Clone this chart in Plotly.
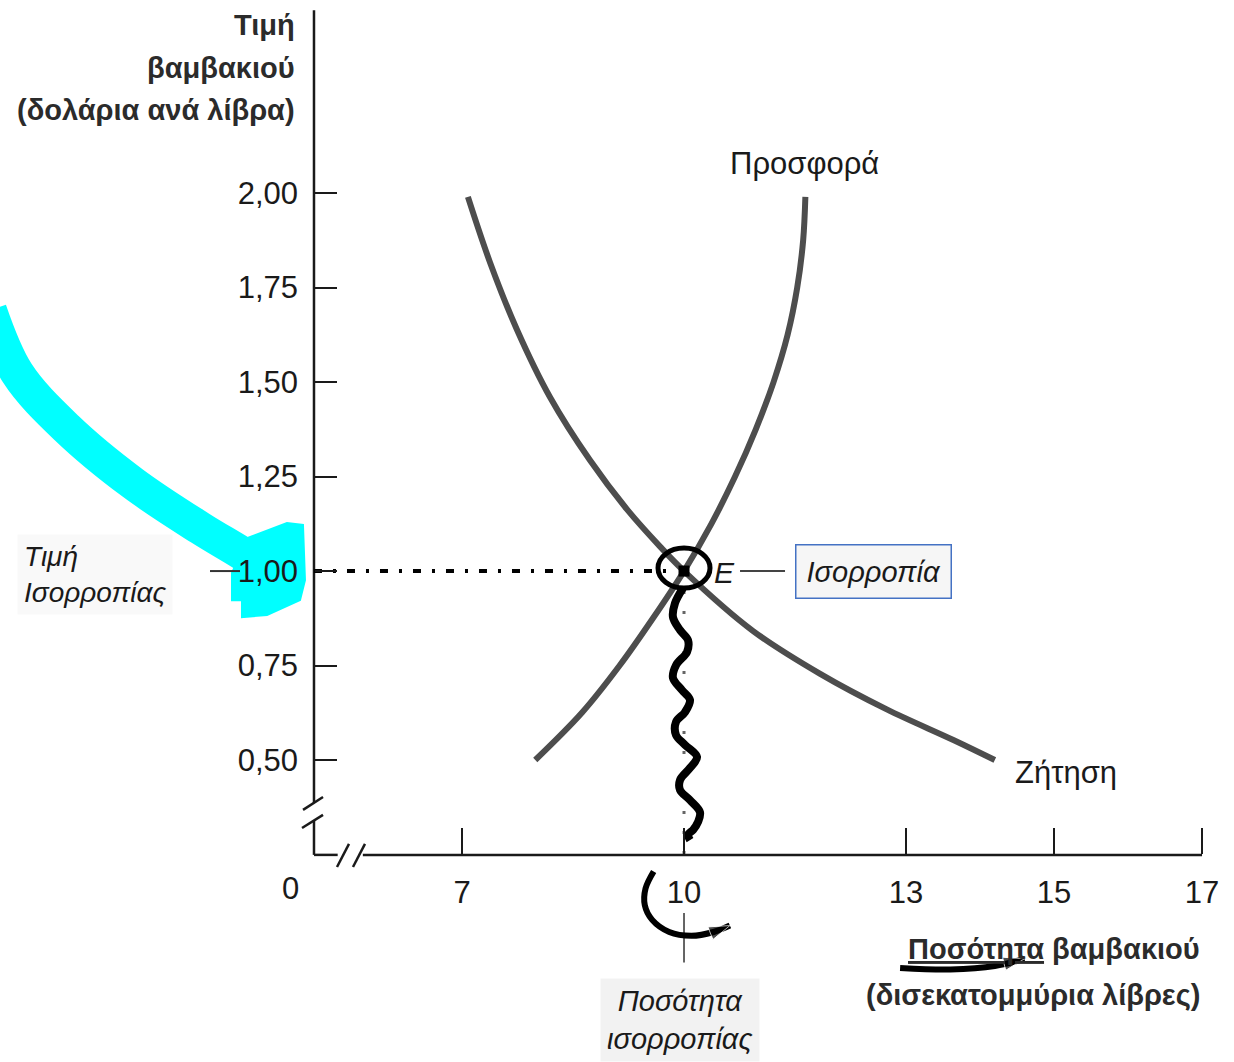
import plotly.graph_objects as go

# ---------------- data ----------------
x_ticks = [7, 10, 13, 15, 17]
y_ticks = [0.50, 0.75, 1.00, 1.25, 1.50, 1.75, 2.00]

demand_q = [7.08, 7.38, 7.74, 8.19, 8.73, 9.23, 9.68, 10.0, 10.93, 11.84, 12.74, 13.64, 14.2]
demand_p = [1.99, 1.816, 1.64, 1.46, 1.293, 1.163, 1.064, 1.00, 0.842, 0.728, 0.634, 0.553, 0.50]

supply_q = [7.99, 8.62, 9.13, 9.58, 10.0, 10.37, 10.69, 10.97, 11.21, 11.40, 11.53, 11.61, 11.64]
supply_p = [0.50, 0.625, 0.75, 0.875, 1.00, 1.125, 1.25, 1.375, 1.50, 1.625, 1.75, 1.875, 1.99]

eq_q = 10.0
eq_p = 1.00

# axis geometry (broken axes)
x_range = [0.757, 17.432]
y_range = [-0.299, 2.511]
origin_q = 5.0
origin_p = 0.25
x_end = 17.0

y_axis_q = [5.0, 5.0, None, 5.0, 5.0]
y_axis_p = [2.484, 0.386, None, 0.341, 0.249]
y_break_q = [4.852, 5.122, None, 4.838, 5.122]
y_break_p = [0.368, 0.402, None, 0.320, 0.355]
x_axis_q = [5.0, 5.32, None, 5.66, 17.0]
x_axis_p = [0.249, 0.249, None, 0.249, 0.249]
x_break_q = [5.311, 5.473, None, 5.527, 5.689]
x_break_p = [0.217, 0.278, None, 0.217, 0.278]

# hand-drawn annotations
highlight_q = [0.62, 0.99, 1.66, 2.55, 3.46, 4.0, 4.27]
highlight_p = [1.69, 1.524, 1.378, 1.233, 1.114, 1.05, 1.016]
blob_q = [4.095, 4.635, 4.851, 4.878, 4.811, 4.365, 4.027, 4.027, 3.892, 3.892, 4.0, 4.095]
blob_p = [1.087, 1.127, 1.122, 0.976, 0.923, 0.884, 0.878, 0.923, 0.923, 0.995, 1.042, 1.087]

squiggle_q = [9.986, 9.878, 9.851, 9.946, 10.054, 10.041, 9.892, 9.851, 9.973, 10.081, 10.014, 9.892,
              9.892, 10.014, 10.176, 10.081, 9.946, 9.946, 10.081, 10.216, 10.189, 10.122, 10.054, 10.081]
squiggle_p = [0.955, 0.915, 0.878, 0.844, 0.817, 0.786, 0.751, 0.717, 0.685, 0.659, 0.627, 0.601,
              0.566, 0.540, 0.508, 0.479, 0.447, 0.421, 0.394, 0.362, 0.336, 0.315, 0.302, 0.288]

curl_q = [9.59, 9.48, 9.47, 9.57, 9.80, 10.10, 10.40, 10.62]
curl_p = [0.205, 0.160, 0.116, 0.077, 0.045, 0.035, 0.045, 0.062]

underline_q = [12.92, 13.6, 14.2, 14.6]
underline_p = [-0.050, -0.054, -0.045, -0.026]

price_leader_q = [3.595, 4.0]
e_leader_q = [10.757, 11.365]
q_leader_p = [0.095, -0.036]

FONT = "Liberation Sans, Arial, DejaVu Sans, sans-serif"
INK = "#1a1a1a"
CURVE = "#4d4d4d"

fig = go.Figure()

# cyan highlighter
fig.add_trace(go.Scatter(x=highlight_q, y=highlight_p, mode="lines",
                         line=dict(color="#00FFFF", width=34, shape="spline"), hoverinfo="skip"))
fig.add_trace(go.Scatter(x=blob_q, y=blob_p, mode="lines", fill="toself", fillcolor="#00FFFF",
                         line=dict(color="#00FFFF", width=2), hoverinfo="skip"))

# axis lines with breaks
for q, p in [(y_axis_q, y_axis_p), (y_break_q, y_break_p), (x_axis_q, x_axis_p), (x_break_q, x_break_p)]:
    fig.add_trace(go.Scatter(x=q, y=p, mode="lines", line=dict(color=INK, width=2.5), hoverinfo="skip"))

# dotted guide lines
fig.add_trace(go.Scatter(x=[origin_q, eq_q - 0.15], y=[eq_p, eq_p], mode="lines",
                         line=dict(color="#000", width=4, dash="8px,11px,3px,11px"), hoverinfo="skip"))
fig.add_trace(go.Scatter(x=[eq_q, eq_q], y=[eq_p, origin_p], mode="lines",
                         line=dict(color="#666", width=3, dash="3px,17px"), hoverinfo="skip"))
fig.add_trace(go.Scatter(x=[eq_q, eq_q], y=q_leader_p, mode="lines",
                         line=dict(color="#333", width=1.5), hoverinfo="skip"))
fig.add_trace(go.Scatter(x=price_leader_q, y=[eq_p, eq_p], mode="lines",
                         line=dict(color="#333", width=2), hoverinfo="skip"))
fig.add_trace(go.Scatter(x=e_leader_q, y=[eq_p, eq_p], mode="lines",
                         line=dict(color="#444", width=2), hoverinfo="skip"))

# supply and demand
fig.add_trace(go.Scatter(x=demand_q, y=demand_p, mode="lines", name="Ζήτηση",
                         line=dict(color=CURVE, width=6, shape="spline", smoothing=1.0)))
fig.add_trace(go.Scatter(x=supply_q, y=supply_p, mode="lines", name="Προσφορά",
                         line=dict(color=CURVE, width=6, shape="spline", smoothing=1.0)))

# hand squiggle, curl arrow, underline arrow
fig.add_trace(go.Scatter(x=squiggle_q, y=squiggle_p, mode="lines",
                         line=dict(color="#000", width=8, shape="spline"), hoverinfo="skip"))
fig.add_trace(go.Scatter(x=curl_q, y=curl_p, mode="lines+markers",
                         line=dict(color="#000", width=6, shape="spline"),
                         marker=dict(symbol="arrow", angleref="previous", color="#000",
                                     size=[0] * (len(curl_q) - 1) + [22]), hoverinfo="skip"))
fig.add_trace(go.Scatter(x=underline_q, y=underline_p, mode="lines+markers",
                         line=dict(color="#000", width=6, shape="spline"),
                         marker=dict(symbol="arrow", angleref="previous", color="#000",
                                     size=[0] * (len(underline_q) - 1) + [22]), hoverinfo="skip"))

# equilibrium point
fig.add_trace(go.Scatter(x=[eq_q], y=[eq_p], mode="markers",
                         marker=dict(symbol="square", size=11, color="#000"), hoverinfo="skip"))

shapes = [dict(type="circle", xref="x", yref="y", xsizemode="pixel", ysizemode="pixel",
               xanchor=eq_q, yanchor=eq_p, x0=-26, x1=26, y0=-17, y1=23,
               line=dict(color="#000", width=5))]

ann = []
def add(text, x, y, xa="center", ya="middle", size=28, color=INK, **kw):
    ann.append(dict(text=text, x=x, y=y, xref="x", yref="y", xanchor=xa, yanchor=ya,
                    showarrow=False, font=dict(size=size, family=FONT, color=color), **kw))

TITLE = "#2b2b2b"
add("<b>Τιμή</b>", 4.77, 2.4445, xa="right", size=29, color=TITLE)
add("<b>βαμβακιού</b>", 4.77, 2.3307, xa="right", size=29, color=TITLE)
add("<b>(δολάρια ανά λίβρα)</b>", 4.77, 2.2196, xa="right", size=29, color=TITLE)
add("<b><u>Ποσότητα</u> βαμβακιού</b>", x_end, 0.0, xa="right", size=29, color=TITLE)
add("<b>(δισεκατομμύρια λίβρες)</b>", x_end, -0.1217, xa="right", size=29, color=TITLE)
add("0", 4.676, 0.161, size=31)
add("Προσφορά", 11.622, 2.079, size=31)
add("Ζήτηση", 14.446, 0.468, xa="left", size=31)
add("<i>E</i>", 10.378, 0.995, xa="left", size=30)
add("<i>Ισορροπία</i>", 12.554, 1.0, size=29, bordercolor="#4472C4", borderwidth=1.5,
    borderpad=10, bgcolor="rgba(0,0,0,0.035)")
add("<i>Τιμή<br>Ισορροπίας</i>", 0.99, 0.99, xa="left", size=28, align="left",
    bgcolor="rgba(0,0,0,0.025)", borderpad=6)
add("<i>Ποσότητα<br>ισορροπίας</i>", 9.946, -0.188, size=29, align="center",
    bgcolor="rgba(0,0,0,0.05)", borderpad=6)

fig.update_layout(
    width=1234, height=1062,
    margin=dict(l=0, r=0, t=0, b=0),
    paper_bgcolor="white", plot_bgcolor="white",
    showlegend=False,
    separators=", ",
    shapes=shapes,
    annotations=ann,
    xaxis=dict(range=x_range, domain=[0, 1], anchor="free", position=0.19539,
               showgrid=False, zeroline=False, showline=False,
               tickvals=x_ticks, ticks="inside", ticklen=26, tickwidth=2, tickcolor=INK,
               tickfont=dict(size=31, family=FONT, color=INK), ticklabelstandoff=17),
    yaxis=dict(range=y_range, domain=[0, 1], anchor="free", position=0.25445,
               showgrid=False, zeroline=False, showline=False,
               tickvals=y_ticks, tickformat=".2f", ticks="inside", ticklen=22, tickwidth=2,
               tickcolor=INK, tickfont=dict(size=31, family=FONT, color=INK),
               ticklabelstandoff=16),
)

fig.write_html("out.html", config={"displayModeBar": False},
               post_script="document.body.style.margin='0';")
